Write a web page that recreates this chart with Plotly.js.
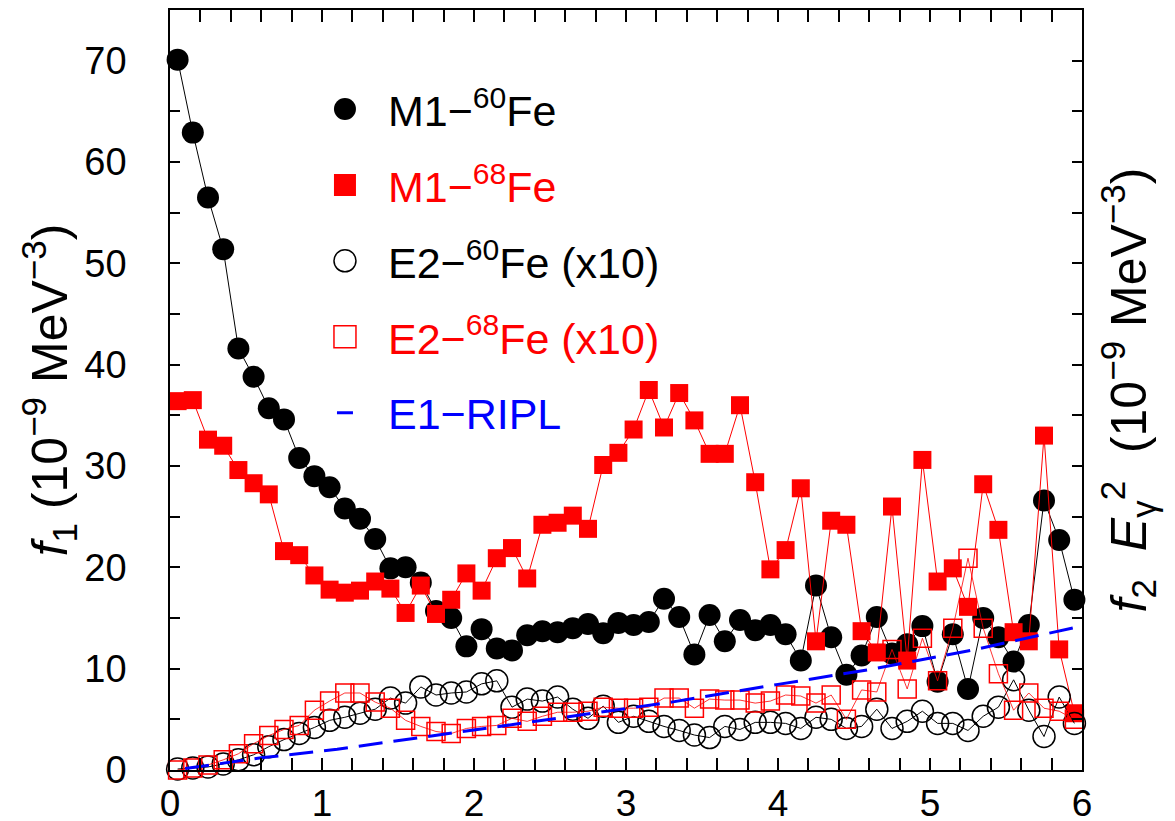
<!DOCTYPE html>
<html>
<head>
<meta charset="utf-8">
<script src="https://cdn.plot.ly/plotly-3.0.1.min.js"></script>
<style>
  html, body { margin: 0; padding: 0; background: #fff; }
  #chart { width: 1175px; height: 821px; }
</style>
</head>
<body>
<div id="chart"></div>
<script>
// Gamma energy bins (MeV)
const energy = [0.05, 0.15, 0.25, 0.35, 0.45, 0.55, 0.65, 0.75, 0.85, 0.95,
                1.05, 1.15, 1.25, 1.35, 1.45, 1.55, 1.65, 1.75, 1.85, 1.95,
                2.05, 2.15, 2.25, 2.35, 2.45, 2.55, 2.65, 2.75, 2.85, 2.95,
                3.05, 3.15, 3.25, 3.35, 3.45, 3.55, 3.65, 3.75, 3.85, 3.95,
                4.05, 4.15, 4.25, 4.35, 4.45, 4.55, 4.65, 4.75, 4.85, 4.95,
                5.05, 5.15, 5.25, 5.35, 5.45, 5.55, 5.65, 5.75, 5.85, 5.95];

// M1 strength, 60Fe (10^-9 MeV^-3)
const m1Fe60 = [70.1, 62.9, 56.5, 51.4, 41.6, 38.8, 35.7, 34.6, 30.8, 29.0,
                27.9, 25.8, 24.8, 22.8, 19.9, 20.0, 18.5, 15.7, 15.0, 12.2,
                13.9, 12.0, 11.8, 13.3, 13.7, 13.6, 14.0, 14.4, 13.5, 14.5,
                14.3, 14.6, 16.9, 15.1, 11.4, 15.3, 12.7, 14.8, 13.8, 14.3,
                13.4, 10.8, 18.2, 13.1, 9.4, 11.3, 15.1, 11.5, 12.4, 14.2,
                8.7, 13.4, 8.0, 15.0, 13.1, 10.7, 14.3, 26.6, 22.7, 16.8];

// M1 strength, 68Fe
const m1Fe68 = [36.4, 36.5, 32.6, 32.0, 29.6, 28.3, 27.2, 21.6, 21.2, 19.2,
                17.8, 17.5, 17.7, 18.6, 17.9, 15.5, 18.2, 15.4, 16.8, 19.4,
                17.7, 20.9, 21.9, 18.9, 24.2, 24.4, 25.1, 23.8, 30.1, 31.3,
                33.6, 37.5, 33.8, 37.2, 34.5, 31.2, 31.2, 36.0, 28.4, 19.8,
                21.7, 27.8, 12.7, 24.6, 24.2, 13.7, 11.6, 26.0, 10.8, 30.6,
                18.6, 19.9, 16.1, 28.2, 23.7, 13.6, 12.7, 33.0, 11.9, 5.6];

// E2 strength times E^2, scaled by 10, 60Fe
const e2Fe60 = [0.1, 0.2, 0.3, 0.6, 1.0, 1.5, 2.3, 3.0, 3.6, 4.2,
                4.9, 5.2, 5.6, 6.0, 7.1, 6.6, 8.2, 7.4, 7.6, 7.7,
                8.5, 8.8, 6.2, 7.0, 6.8, 7.2, 6.0, 5.1, 6.3, 4.7,
                5.3, 4.8, 4.3, 3.9, 3.45, 3.2, 4.3, 4.0, 4.7, 4.7,
                4.6, 4.1, 5.2, 5.0, 4.1, 4.3, 6.0, 4.1, 4.8, 5.8,
                4.6, 4.6, 3.9, 5.3, 6.2, 8.9, 5.9, 3.3, 7.2, 4.6];

// E2 strength times E^2, scaled by 10, 68Fe
const e2Fe68 = [0.0, 0.2, 0.5, 1.0, 1.6, 2.6, 3.4, 4.0, 4.4, 5.9,
                6.8, 7.6, 7.6, 6.7, 6.1, 4.9, 4.3, 3.8, 3.6, 4.1,
                4.3, 4.4, 5.1, 4.8, 5.3, 5.7, 5.7, 5.8, 6.2, 6.1,
                6.1, 6.2, 7.1, 7.1, 6.1, 7.0, 6.9, 6.9, 6.6, 6.8,
                7.4, 7.3, 6.6, 7.4, 5.0, 7.9, 7.7, 11.9, 8.0, 13.0,
                8.8, 14.0, 20.9, 14.0, 9.5, 5.9, 7.6, 6.1, 5.8, 5.0];

// E1 strength from RIPL systematics
const e1Energy = [0.1, 0.6, 1.1, 1.5, 2.0, 2.6, 3.3, 4.0, 4.6, 5.3, 5.95];
const e1Ripl   = [0.15, 1.2, 2.05, 2.9, 3.95, 5.2, 6.7, 8.45, 9.9, 11.9, 14.05];

const RED = '#ff0000';
const BLUE = '#0000ff';
const FONT = 'Liberation Sans, Arial, Helvetica, sans-serif';
// trailing pads nudge the rotated titles downward
const PAD_LEFT = '\u00a0'.repeat(6);
const PAD_RIGHT = '\u00a0'.repeat(11);

function lineTrace(x, y, color, width, yaxis) {
  return { x, y, yaxis, mode: 'lines', showlegend: false, hoverinfo: 'skip',
           line: { color, width } };
}
function markerTrace(x, y, name, group, marker, yaxis) {
  return { x, y, yaxis, name, legendgroup: group, mode: 'markers',
           cliponaxis: false, marker };
}

const traces = [
  lineTrace(energy, m1Fe60, 'black', 1, 'y'),
  markerTrace(energy, m1Fe60, 'M1−<sup>60</sup>Fe', 'a',
              { symbol: 'circle', size: 22, color: 'black' }, 'y'),
  lineTrace(energy, m1Fe68, RED, 1, 'y'),
  markerTrace(energy, m1Fe68, '<span style="color:#ff0000">M1−<sup>68</sup>Fe</span>', 'b',
              { symbol: 'square', size: 18, color: RED }, 'y'),
  lineTrace(energy, e2Fe60, 'black', 1, 'y2'),
  markerTrace(energy, e2Fe60, 'E2−<sup>60</sup>Fe (x10)', 'c',
              { symbol: 'circle-open', size: 22, color: 'black', line: { width: 1.5 } }, 'y2'),
  lineTrace(energy, e2Fe68, RED, 0.8, 'y2'),
  markerTrace(energy, e2Fe68, '<span style="color:#ff0000">E2−<sup>68</sup>Fe (x10)</span>', 'd',
              { symbol: 'square-open', size: 18, color: RED, line: { width: 1.5 } }, 'y2'),
  { x: e1Energy, y: e1Ripl, yaxis: 'y2', name: '<span style="color:#0000ff">E1−RIPL</span>',
    legendgroup: 'e', mode: 'lines', line: { color: BLUE, width: 3, dash: '24px,11px' } }
];

const layout = {
  width: 1175, height: 821,
  margin: { l: 170, r: 93, t: 10, b: 51 },
  paper_bgcolor: '#fff', plot_bgcolor: '#fff',
  font: { family: FONT, size: 38, color: 'black' },
  showlegend: true,
  legend: {
    x: 0.1447, y: 0.915, xanchor: 'left', yanchor: 'top',
    bgcolor: 'rgba(0,0,0,0)', borderwidth: 0,
    font: { family: FONT, size: 43, color: 'black' },
    traceorder: 'grouped', tracegroupgap: 17, itemwidth: 76
  },
  xaxis: {
    range: [0, 6], showgrid: false, zeroline: false,
    showline: true, linecolor: 'black', linewidth: 1.5, mirror: 'allticks',
    ticks: 'inside', ticklen: 12, tickwidth: 1.5, tickcolor: 'black',
    tick0: 0, dtick: 1, ticklabelstandoff: 0,
    minor: { ticks: 'inside', dtick: 0.2, ticklen: 6, tickwidth: 1.5, tickcolor: 'black' },
    tickfont: { family: FONT, size: 37 }
  },
  yaxis: {
    range: [0, 75], showgrid: false, zeroline: false,
    showline: true, linecolor: 'black', linewidth: 1.5, mirror: 'allticks',
    ticks: 'inside', ticklen: 10, tickwidth: 1.5, tickcolor: 'black',
    tick0: 0, dtick: 10, ticklabelstandoff: 34,
    minor: { ticks: 'inside', dtick: 5, ticklen: 10, tickwidth: 1.5, tickcolor: 'black' },
    tickfont: { family: FONT, size: 38 },
    title: { text: '<i>f</i><sub>1</sub> (10<sup>−9</sup> MeV<sup>−3</sup>)' + PAD_LEFT,
             font: { family: FONT, size: 50 }, standoff: 0 }
  },
  yaxis2: {
    overlaying: 'y', side: 'right', range: [0, 75],
    showgrid: false, zeroline: false, showline: false, ticks: '', showticklabels: false,
    title: { text: '<i>f</i><sub>2</sub>  <i>E</i><sub>γ</sub><sup>2</sup>  (10<sup>−9</sup> MeV<sup>−3</sup>)' + PAD_RIGHT,
             font: { family: FONT, size: 50 }, standoff: 28 }
  }
};

// Enlarge legend symbols beyond the library's size cap and shorten the E1 key dash
function styleLegend() {
  document.querySelectorAll('.legend .legendpoints path.scatterpts').forEach(p => {
    const t = p.getAttribute('transform') || '';
    if (!/scale/.test(t)) {
      p.setAttribute('transform', t + ' scale(1.375)');
      p.style.vectorEffect = 'non-scaling-stroke';
    }
  });
  document.querySelectorAll('.legend .legendlines path').forEach(p => {
    const m = /M([\d.\-]+),0h([\d.\-]+)/.exec(p.getAttribute('d') || '');
    if (m) {
      const c = parseFloat(m[1]) + parseFloat(m[2]) / 2;
      p.setAttribute('d', 'M' + (c - 8) + ',0h16');
    }
  });
}

Plotly.newPlot('chart', traces, layout, { displayModeBar: false, responsive: false })
  .then(styleLegend);
</script>
</body>
</html>
